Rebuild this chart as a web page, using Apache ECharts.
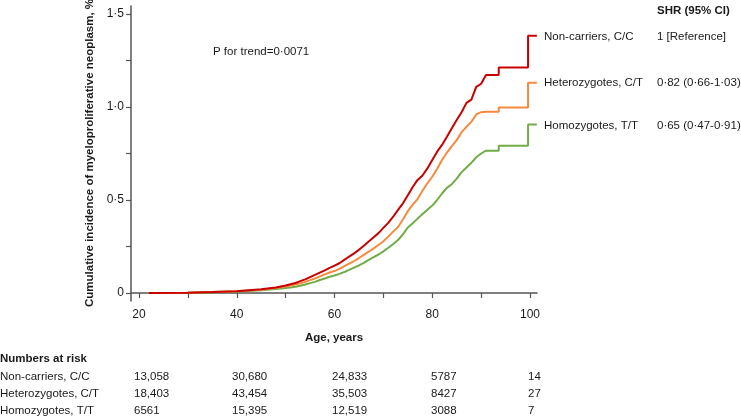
<!DOCTYPE html>
<html><head><meta charset="utf-8">
<script src="https://cdn.jsdelivr.net/npm/echarts@6/dist/echarts.min.js"></script>
<style>html,body{margin:0;padding:0;background:#fff}#c{width:741px;height:418px}</style>
</head><body><div id="c"></div>
<script>
// Ages (years) at which the cumulative incidence was read; repeated ages mark the vertical rises of the final steps
const ages = [22,30,35,40,45,48,50,51,52,53,54,55,56,57,58,59,60,61,62,63,64,65,66,67,68,69,70,71,72,73,74,75,76,77,78,79,80,81,82,83,84,85,86,87,88,89,90,91,93.6,93.6,99.6,99.6,101.4];
const nonCarriers = [0,0.002,0.005,0.010,0.020,0.030,0.040,0.047,0.054,0.064,0.073,0.085,0.097,0.110,0.122,0.135,0.147,0.160,0.178,0.196,0.213,0.232,0.254,0.277,0.300,0.322,0.350,0.377,0.410,0.447,0.482,0.525,0.570,0.608,0.632,0.670,0.715,0.760,0.796,0.840,0.886,0.930,0.972,1.022,1.040,1.108,1.125,1.172,1.172,1.212,1.212,1.383,1.383];
const heterozygotes = [0,0.002,0.005,0.009,0.018,0.027,0.035,0.040,0.046,0.052,0.060,0.069,0.078,0.089,0.100,0.110,0.118,0.130,0.145,0.158,0.172,0.188,0.205,0.222,0.240,0.258,0.278,0.303,0.330,0.355,0.395,0.440,0.475,0.505,0.550,0.590,0.625,0.668,0.715,0.755,0.790,0.822,0.865,0.893,0.920,0.960,0.972,0.975,0.975,0.997,0.997,1.131,1.131];
const homozygotes = [0,0.002,0.004,0.008,0.015,0.021,0.027,0.030,0.034,0.039,0.046,0.053,0.060,0.070,0.078,0.087,0.094,0.103,0.113,0.124,0.136,0.148,0.162,0.178,0.193,0.207,0.224,0.243,0.263,0.285,0.315,0.352,0.375,0.400,0.425,0.447,0.470,0.500,0.535,0.565,0.585,0.615,0.650,0.675,0.700,0.730,0.750,0.765,0.765,0.791,0.791,0.906,0.906];
const seriesNames = ['Non-carriers, C/C','Heterozygotes, C/T','Homozygotes, T/T'];
const shrLabels = ['1 [Reference]','0·82 (0·66-1·03)','0·65 (0·47-0·91)'];
const xTicks = [20,30,40,50,60,70,80,90,100];
const xLabels = [20,40,60,80,100];
const yTicks = [0,0.25,0.5,0.75,1.0,1.25,1.5];
const yLabels = [0,0.5,1.0,1.5];
const riskRows = ['Non-carriers, C/C','Heterozygotes, C/T','Homozygotes, T/T'];
const riskNumbers = [
  ['13,058','30,680','24,833','5787','14'],
  ['18,403','43,454','35,503','8427','27'],
  ['6561','15,395','12,519','3088','7']
];
const colors = ['#C80000','#F58A3F','#70AD47'];

const FONT = 'Liberation Sans, Arial, sans-serif';
const TXT = '#1a1a1a';
const chart = echarts.init(document.getElementById('c'), null, {renderer:'canvas'});
const mk = vals => ages.map((a,i)=>[a, vals[i]]);
const fmt = v => (v===0 ? '0' : v.toFixed(1).replace('.', '·'));

const graphics = [];
graphics.push({type:'text', x:90, y:153, rotation:Math.PI/2, style:{text:'Cumulative incidence of myeloproliferative neoplasm, %', font:'bold 11.5px '+FONT, fill:TXT, align:'center', verticalAlign:'middle'}});
graphics.push({type:'text', x:334, y:338, style:{text:'Age, years', font:'bold 11.5px '+FONT, fill:TXT, align:'center', verticalAlign:'middle'}});
graphics.push({type:'text', x:213, y:52, style:{text:'P for trend=0·0071', font:'11.5px '+FONT, fill:TXT, align:'left', verticalAlign:'middle'}});
graphics.push({type:'text', x:657, y:11, style:{text:'SHR (95% CI)', font:'bold 11.5px '+FONT, fill:TXT, align:'left', verticalAlign:'middle'}});
const labelY = [37, 83, 126];
seriesNames.forEach((n,i)=>{
  graphics.push({type:'text', x:544, y:labelY[i], style:{text:n, font:'11.5px '+FONT, fill:TXT, align:'left', verticalAlign:'middle'}});
  graphics.push({type:'text', x:657, y:labelY[i], style:{text:shrLabels[i], font:'11.5px '+FONT, fill:TXT, align:'left', verticalAlign:'middle'}});
});
graphics.push({type:'text', x:0, y:359, style:{text:'Numbers at risk', font:'bold 11.5px '+FONT, fill:TXT, align:'left', verticalAlign:'middle'}});
const rowY = [377, 394, 411];
const colX = [134, 232, 332, 431, 528];
riskRows.forEach((r,i)=>{
  graphics.push({type:'text', x:0, y:rowY[i], style:{text:r, font:'11.5px '+FONT, fill:TXT, align:'left', verticalAlign:'middle'}});
  riskNumbers[i].forEach((v,j)=>{
    graphics.push({type:'text', x:colX[j], y:rowY[i], style:{text:v, font:'11.5px '+FONT, fill:TXT, align:'left', verticalAlign:'middle'}});
  });
});

chart.setOption({
  animation:false,
  backgroundColor:'#fff',
  grid:{left:131, right:204, top:6, bottom:117, containLabel:false},
  xAxis:{type:'value', min:18.36, max:101.43,
    axisLine:{show:true, lineStyle:{color:'#555', width:1.5}},
    axisTick:{show:true, inside:false, length:5, customValues:xTicks, lineStyle:{color:'#555', width:1.2}},
    axisLabel:{customValues:xLabels, margin:8, color:TXT, fontSize:12, fontFamily:FONT},
    splitLine:{show:false}},
  yAxis:{type:'value', min:-0.043, max:1.543,
    axisLine:{show:true, lineStyle:{color:'#555', width:1.5}},
    axisTick:{show:true, inside:false, length:5, customValues:yTicks, lineStyle:{color:'#555', width:1.2}},
    axisLabel:{customValues:yLabels, margin:7, color:TXT, fontSize:12, fontFamily:FONT, formatter:fmt},
    splitLine:{show:false}},
  series:[
    {name:seriesNames[2], type:'line', symbol:'none', data:mk(homozygotes), lineStyle:{color:colors[2], width:2}, z:2},
    {name:seriesNames[1], type:'line', symbol:'none', data:mk(heterozygotes), lineStyle:{color:colors[1], width:2}, z:3},
    {name:seriesNames[0], type:'line', symbol:'none', data:mk(nonCarriers), lineStyle:{color:colors[0], width:2}, z:4}
  ],
  graphic:graphics
});
</script></body></html>
